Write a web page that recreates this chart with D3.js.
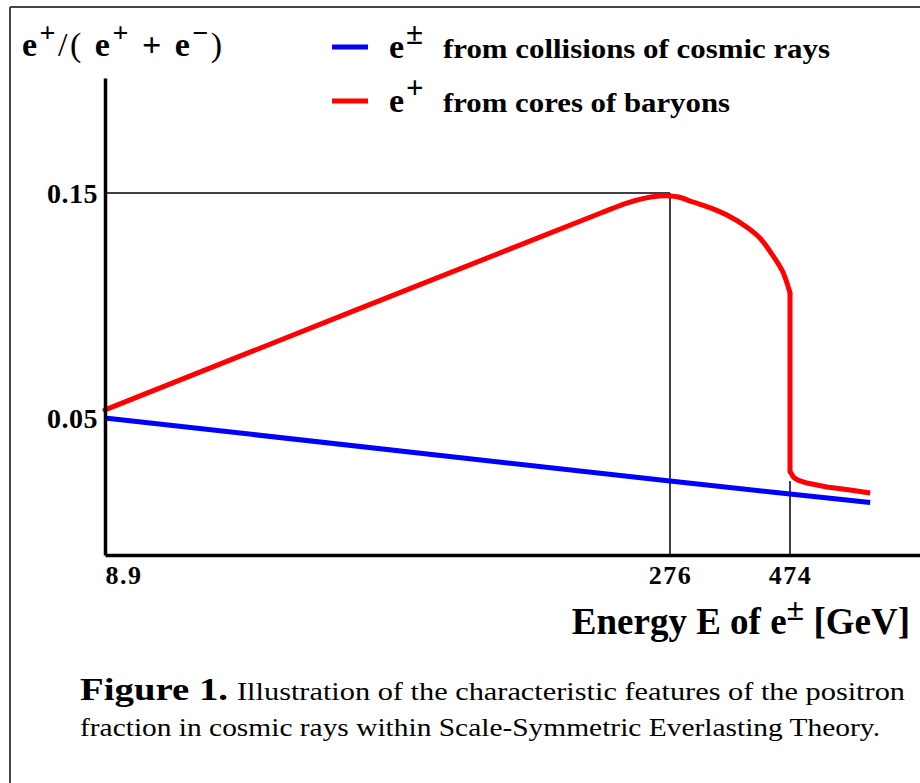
<!DOCTYPE html>
<html>
<head>
<meta charset="utf-8">
<script src="https://cdn.jsdelivr.net/npm/d3@7/dist/d3.min.js"></script>
<style>
  body { margin: 0; background: #fff; }
  text { font-family: "Liberation Serif", "Times New Roman", serif; fill: #000; }
</style>
</head>
<body>
<div id="chart"></div>
<script>
// energy ticks (GeV) - the drawing is not to scale, so the x scale is piecewise
var xTicks = [8.9, 276, 474];
var yTicks = [0.05, 0.15];

// e+- from collisions of cosmic rays
var blueE = [8.9, 276, 474, 606];
var blueV = [0.05, 0.022, 0.0162, 0.0124];

// e+ from cores of baryons: straight rise + dome ...
var redE = [8.9, 243, 256, 267, 276, 290, 314, 345, 370, 403, 425, 445, 462, 474];
var redV = [0.0536, 0.141, 0.1456, 0.1482, 0.1487, 0.1482, 0.146, 0.1432, 0.1402, 0.1348, 0.1298, 0.1225, 0.1150, 0.1056];
// ... then the drop at 474 and the tail
var tailE = [474, 474, 480, 487, 502, 535, 573, 606];
var tailV = [0.1056, 0.0262, 0.0236, 0.0224, 0.0211, 0.0193, 0.018, 0.0167];

var W = 920, H = 783;
var svg = d3.select("#chart").append("svg")
    .attr("width", W)
    .attr("height", H);

// frame
svg.append("line").attr("x1", 10).attr("y1", 7).attr("x2", W).attr("y2", 7)
   .style("stroke", "#444").style("stroke-width", 2);
svg.append("line").attr("x1", 10).attr("y1", 7).attr("x2", 10).attr("y2", H)
   .style("stroke", "#444").style("stroke-width", 2);

var x = d3.scaleLinear()
    .domain([8.9, 276, 474, 688])
    .range([105, 670, 790, 920]);
var y = d3.scaleLinear()
    .domain([-0.01089, 0.20111])
    .range([555, 78]);

// guide lines
svg.append("line")
   .attr("x1", x(8.9)).attr("y1", y(0.15)).attr("x2", x(276)).attr("y2", y(0.15))
   .style("stroke", "black").style("stroke-width", 1.5);
svg.append("line")
   .attr("x1", x(276)).attr("y1", y(0.15)).attr("x2", x(276)).attr("y2", y.range()[0])
   .style("stroke", "black").style("stroke-width", 1.5);
svg.append("line")
   .attr("x1", x(474)).attr("y1", y(0.022)).attr("x2", x(474)).attr("y2", y.range()[0])
   .style("stroke", "black").style("stroke-width", 1.5);

var line = d3.line()
    .x(function(d) { return x(d[0]); })
    .y(function(d) { return y(d[1]); });

svg.append("path")
   .datum(d3.zip(blueE, blueV))
   .attr("d", line)
   .style("fill", "none").style("stroke", "#0000ff").style("stroke-width", 5);

var smooth = d3.line().curve(d3.curveCatmullRom.alpha(0.5))
    .x(function(d) { return x(d[0]); })
    .y(function(d) { return y(d[1]); });
svg.append("path")
   .datum(d3.zip(redE, redV))
   .attr("d", smooth)
   .style("fill", "none").style("stroke", "#ff0000").style("stroke-width", 5)
   .style("stroke-linecap", "round");
svg.append("path")
   .datum(d3.zip(tailE, tailV))
   .attr("d", line)
   .style("fill", "none").style("stroke", "#ff0000").style("stroke-width", 5)
   .style("stroke-linejoin", "round");

// axes
var yAxis = svg.append("g")
   .attr("transform", "translate(" + x(8.9) + ",0)")
   .call(d3.axisLeft(y).tickValues(yTicks).tickSize(0).tickSizeOuter(0).tickPadding(7)
        .tickFormat(function(d) { return d.toFixed(2); }));
yAxis.select(".domain").style("stroke-width", 3.5);
yAxis.selectAll("text")
   .attr("font-family", "Liberation Serif").attr("font-size", 28).attr("font-weight", "bold")
   .attr("letter-spacing", 0.5)
   .attr("dy", "0.35em");

var xAxis = svg.append("g")
   .attr("transform", "translate(0," + y.range()[0] + ")")
   .call(d3.axisBottom(x).tickValues(xTicks).tickSize(0).tickSizeOuter(0).tickPadding(9)
        .tickFormat(function(d) { return d; }));
xAxis.select(".domain").style("stroke-width", 3.5);
xAxis.selectAll("text")
   .attr("font-family", "Liberation Serif").attr("font-size", 26).attr("font-weight", "bold")
   .attr("letter-spacing", 1.5)
   .attr("dy", "0.75em")
   .attr("text-anchor", function(d) { return d === 8.9 ? "start" : "middle"; });

// y title: e+/( e+ + e-)
var t = svg.append("text").attr("x", 22).attr("y", 56)
   .attr("font-size", 34).attr("font-weight", "bold").attr("letter-spacing", 2.5);
t.append("tspan").text("e");
t.append("tspan").attr("dy", -14).attr("font-size", 28).text("+");
t.append("tspan").attr("dy", 14).attr("font-weight", "normal").text("/( ");
t.append("tspan").text("e");
t.append("tspan").attr("dy", -14).attr("font-size", 28).text("+");
t.append("tspan").attr("dy", 14).text(" + e");
t.append("tspan").attr("dy", -14).attr("font-size", 28).text("\u2212");
t.append("tspan").attr("dy", 14).attr("font-weight", "normal").text(")");

// legend
var legend = [
  { color: "#0000ff", sup: "\u00b1", label: "from collisions of cosmic rays", y: 47, len: 387 },
  { color: "#ff0000", sup: "+", label: "from cores of baryons", y: 101, len: 287 }
];
legend.forEach(function(l) {
  svg.append("line").attr("x1", 332).attr("x2", 368).attr("y1", l.y).attr("y2", l.y)
     .style("stroke", l.color).style("stroke-width", 5);
  var lt = svg.append("text").attr("x", 389).attr("y", l.y + 11)
     .attr("font-size", 34).attr("font-weight", "bold");
  lt.append("tspan").text("e");
  lt.append("tspan").attr("dx", 2).attr("dy", -14).attr("font-size", 31).text(l.sup);
  svg.append("text").attr("x", 443).attr("y", l.y + 11)
     .attr("font-size", 28).attr("font-weight", "bold")
     .attr("textLength", l.len).attr("lengthAdjust", "spacingAndGlyphs")
     .text(l.label);
});

// x title
var xt = svg.append("text").attr("x", 910).attr("y", 634).attr("text-anchor", "end")
   .attr("font-size", 37).attr("font-weight", "bold");
xt.append("tspan").text("Energy E of e");
xt.append("tspan").attr("dy", -14).attr("font-size", 32).text("\u00b1");
xt.append("tspan").attr("dy", 14).text(" [GeV]");

// caption
svg.append("text").attr("x", 80).attr("y", 700).attr("font-size", 31).attr("font-weight", "bold")
   .attr("textLength", 148).attr("lengthAdjust", "spacingAndGlyphs")
   .text("Figure 1.");
svg.append("text").attr("x", 237).attr("y", 700).attr("font-size", 25)
   .attr("textLength", 668).attr("lengthAdjust", "spacingAndGlyphs")
   .text("Illustration of the characteristic features of the positron");
svg.append("text").attr("x", 80).attr("y", 736).attr("font-size", 25)
   .attr("textLength", 800).attr("lengthAdjust", "spacingAndGlyphs")
   .text("fraction in cosmic rays within Scale-Symmetric Everlasting Theory.");
</script>
</body>
</html>
